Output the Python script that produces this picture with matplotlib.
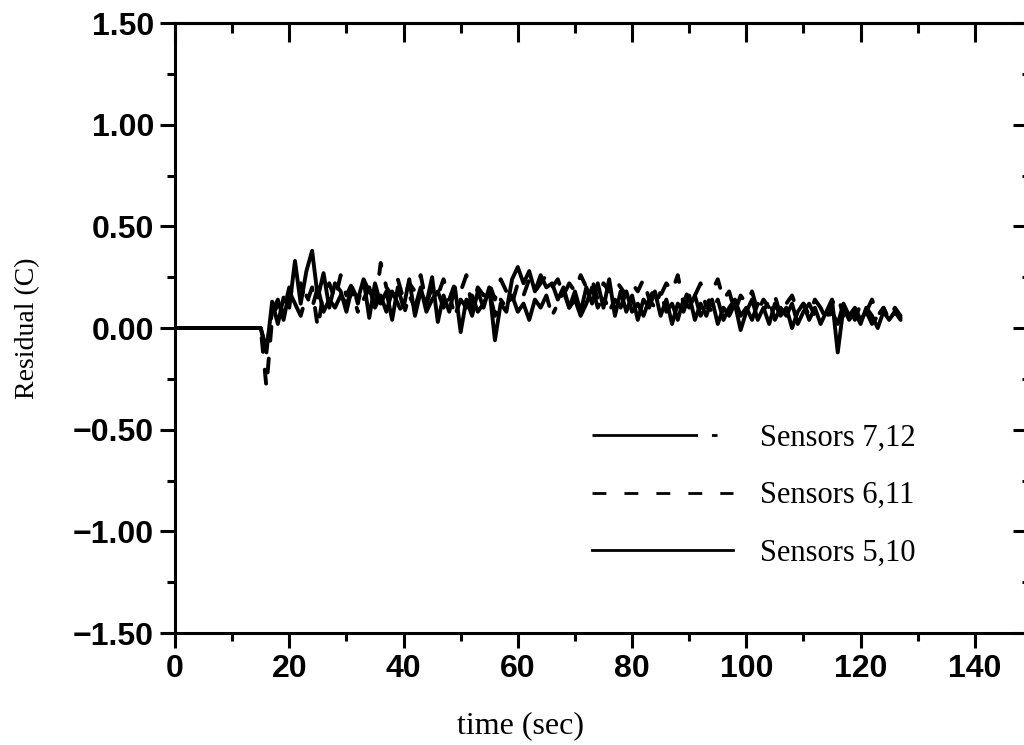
import numpy as np
import matplotlib.pyplot as plt
from matplotlib.ticker import MultipleLocator, FuncFormatter
from matplotlib.lines import Line2D

# time grid (sec): flat zero until the sensors start responding at ~16 s
time = [0] + list(range(15, 128))

# residuals (C) at 1 s spacing from t=15 to 127
sensors_5_10 = [0.0,
    0.00, -0.12, 0.13, 0.02, 0.15, 0.10, 0.33, 0.12, 0.28, 0.38,
    0.15, 0.27, 0.10, 0.22, 0.18, 0.08, 0.20, 0.14, 0.24, 0.05,
    0.22, 0.12, 0.18, 0.04, 0.20, 0.10, 0.24, 0.06, 0.18, 0.12,
    0.25, 0.03, 0.16, 0.08, 0.20, -0.02, 0.14, 0.06, 0.18, 0.10,
    0.20, -0.06, 0.12, 0.08, 0.24, 0.30, 0.22, 0.28, 0.18, 0.26,
    0.20, 0.22, 0.14, 0.20, 0.10, 0.18, 0.08, 0.20, 0.12, 0.22,
    0.10, 0.24, 0.06, 0.18, 0.08, 0.16, 0.04, 0.14, 0.10, 0.18,
    0.06, 0.14, 0.02, 0.12, 0.08, 0.16, 0.04, 0.12, 0.06, 0.14,
    0.02, 0.10, 0.06, 0.12, -0.01, 0.08, 0.14, 0.04, 0.10, 0.02,
    0.12, 0.06, 0.10, 0.00, 0.08, 0.12, 0.04, 0.10, 0.02, 0.08,
    0.14, -0.12, 0.10, 0.04, 0.08, 0.02, 0.10, 0.06, 0.00, 0.08,
    0.04, 0.08, 0.05]

sensors_6_11 = [0.0,
    0.00, -0.29, 0.05, 0.12, 0.08, 0.20, 0.15, 0.22, 0.12, 0.20,
    0.00, 0.18, 0.22, 0.14, 0.26, 0.16, 0.22, 0.12, 0.24, 0.18,
    0.10, 0.32, 0.20, 0.16, 0.24, 0.14, 0.22, 0.18, 0.26, 0.12,
    0.20, 0.16, 0.24, 0.14, 0.22, 0.18, 0.26, 0.10, 0.20, 0.16,
    0.22, 0.14, 0.24, 0.18, 0.12, 0.22, 0.16, 0.24, 0.18, 0.22,
    0.26, 0.20, 0.24, 0.16, 0.22, 0.18, 0.26, 0.20, 0.24, 0.14,
    0.22, 0.18, 0.24, 0.20, 0.16, 0.22, 0.18, 0.24, 0.14, 0.20,
    0.16, 0.22, 0.18, 0.26, 0.12, 0.20, 0.16, 0.22, 0.10, 0.18,
    0.24, 0.14, 0.18, 0.08, 0.16, 0.12, 0.18, 0.08, 0.14, 0.10,
    0.16, 0.06, 0.12, 0.16, 0.08, 0.12, 0.06, 0.14, 0.10, 0.04,
    0.12, 0.16, 0.06, 0.10, 0.04, 0.12, 0.08, 0.14, 0.06, 0.10,
    0.04, 0.10, 0.06]

sensors_7_12 = [0.0,
    0.00, -0.10, 0.08, 0.14, 0.04, 0.18, 0.12, 0.06, 0.16, 0.10,
    0.20, 0.08, 0.14, 0.10, 0.16, 0.12, 0.18, 0.08, 0.14, 0.20,
    0.10, 0.16, 0.08, 0.18, 0.12, 0.06, 0.16, 0.10, 0.20, 0.08,
    0.14, 0.18, 0.10, 0.16, 0.06, 0.14, 0.10, 0.16, 0.08, 0.12,
    0.18, 0.06, 0.14, 0.10, 0.16, 0.08, 0.12, 0.04, 0.14, 0.10,
    0.16, 0.06, 0.12, 0.18, 0.10, 0.14, 0.06, 0.12, 0.20, 0.10,
    0.16, 0.08, 0.14, 0.10, 0.18, 0.08, 0.12, 0.06, 0.14, 0.10,
    0.18, 0.08, 0.12, 0.04, 0.14, 0.10, 0.16, 0.06, 0.12, 0.08,
    0.14, 0.04, 0.10, 0.14, 0.06, 0.10, 0.04, 0.12, 0.08, 0.14,
    0.04, 0.10, 0.06, 0.12, 0.02, 0.08, 0.12, 0.06, 0.10, 0.04,
    0.08, 0.02, 0.12, 0.06, 0.10, 0.04, 0.08, 0.02, 0.06, 0.10,
    0.04, 0.08, 0.04]

tick_font = ['Liberation Sans', 'DejaVu Sans']
text_font = ['Liberation Serif', 'DejaVu Serif']

fig = plt.figure(figsize=(10.24, 7.45), dpi=100)
ax = fig.add_axes([0.1709, 0.1503, 0.8369, 0.8188])

lw = 2.8
style = dict(color='black', lw=lw, solid_capstyle='round', dash_capstyle='round',
             solid_joinstyle='round', dash_joinstyle='round')
l5, = ax.plot(time, sensors_5_10, ls='-', **style)
l6, = ax.plot(time, sensors_6_11, dashes=(3.6, 4.6), **style)
l7, = ax.plot(time, sensors_7_12, dashes=(27, 3.5, 1.2, 3.5), **style)

ax.set_xlim(0, 150)
ax.set_ylim(-1.5, 1.5)

ax.xaxis.set_major_locator(MultipleLocator(20))
ax.xaxis.set_minor_locator(MultipleLocator(10))
ax.yaxis.set_major_locator(MultipleLocator(0.5))
ax.yaxis.set_minor_locator(MultipleLocator(0.25))
ax.yaxis.set_major_formatter(FuncFormatter(lambda v, p: f"{v:.2f}".replace('-', '\u2212')))

for s in ax.spines.values():
    s.set_linewidth(2.2)

ax.tick_params(which='major', direction='out', length=11, width=2.2, pad=4, labelsize=23)
ax.tick_params(which='minor', direction='out', length=6, width=2.2)
for lab in ax.get_xticklabels() + ax.get_yticklabels():
    lab.set_family(tick_font)
    lab.set_fontweight('bold')

top = ax.secondary_xaxis('top')
top.xaxis.set_major_locator(MultipleLocator(20))
top.xaxis.set_minor_locator(MultipleLocator(10))
top.tick_params(which='major', direction='in', length=14, width=2.2, labeltop=False)
top.tick_params(which='minor', direction='in', length=7, width=2.2)
top.spines['top'].set_linewidth(2.2)

right = ax.secondary_yaxis('right')
right.yaxis.set_major_locator(MultipleLocator(0.5))
right.yaxis.set_minor_locator(MultipleLocator(0.25))
right.tick_params(which='major', direction='in', length=14, width=2.2, labelright=False)
right.tick_params(which='minor', direction='in', length=7, width=2.2)

ax.set_xlabel('time (sec)', family=text_font, fontsize=23)
ax.set_ylabel('Residual (C)', family=text_font, fontsize=20)
ax.xaxis.set_label_coords(0.4026, -0.128)
ax.yaxis.set_label_coords(-0.157, 0.5)

h7 = Line2D([], [], color='black', lw=2.0, dashes=(38, 5, 2, 20))
h6 = Line2D([], [], color='black', lw=2.0, dashes=(5, 6.5))
h5 = Line2D([], [], color='black', lw=2.0)
leg = ax.legend([h7, h6, h5], ['Sensors 7,12', 'Sensors 6,11', 'Sensors 5,10'],
                loc='upper left', bbox_to_anchor=(0.4866, 0.343), frameon=False,
                prop={'family': text_font, 'size': 22}, handlelength=4.6,
                handletextpad=0.9, labelspacing=0.93, borderpad=0, borderaxespad=0)

fig.savefig('out.png', dpi=100)
